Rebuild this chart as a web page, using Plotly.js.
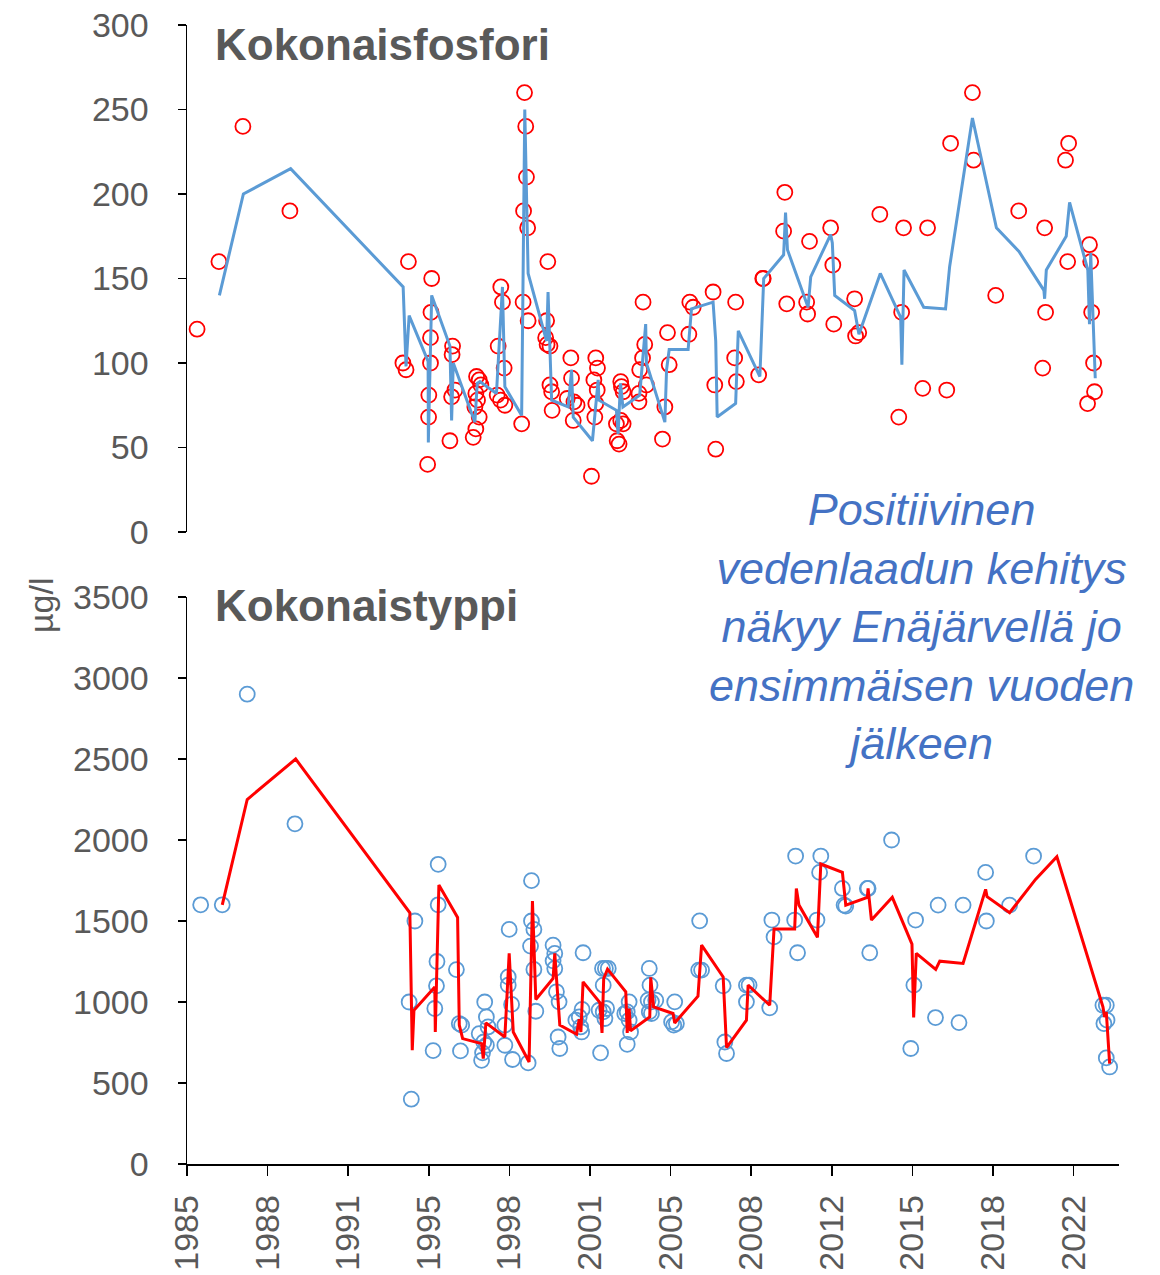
<!DOCTYPE html>
<html>
<head>
<meta charset="utf-8">
<script src="https://cdn.plot.ly/plotly-3.0.1.min.js"></script>
<style>html,body{margin:0;padding:0;background:#fff;}#chart{width:1160px;height:1275px;}</style>
</head>
<body>
<div id="chart"></div>
<script>
// ---- Tick labels (x axis, date axis shown as years) ----
const xTickLabels = ["1985","1988","1991","1995","1998","2001","2005","2008","2012","2015","2018","2022"];
const yTopTicks = [0,50,100,150,200,250,300];
const yBottomTicks = [0,500,1000,1500,2000,2500,3000,3500];

// ---- Kokonaisfosfori: measured values (red circles) ----
const tpYears = [1985.57,1986.48,1987.48,1989.44,1994.15,1994.28,1994.38,1995.18,1995.22,1995.23,1995.30,1995.30,1995.32,1995.35,
1996.11,1996.18,1996.20,1996.22,1996.32,1997.08,1997.15,1997.19,1997.19,1997.22,1997.26,1997.33,1997.33,1997.40,
1998.08,1998.12,1998.22,1998.23,1998.30,1998.37,1998.40,1999.10,1999.16,1999.18,1999.22,1999.27,1999.30,1999.35,1999.37,
2000.10,2000.14,2000.16,2000.19,2000.28,2000.28,2000.35,2000.37,2001.00,2001.15,2001.18,2001.25,2001.28,2001.41,
2002.01,2002.11,2002.15,2002.19,2002.19,2002.25,2002.26,2003.05,2003.08,2003.16,2003.23,2003.23,2003.26,2003.33,2003.33,
2003.99,2003.99,2004.02,2004.14,2004.16,2004.23,2004.30,2004.97,2005.07,2005.18,2005.25,2006.07,2006.11,2006.25,
2007.08,2007.15,2007.19,2007.98,2008.02,2008.05,2008.98,2009.15,2009.17,2010.02,2010.07,2010.15,2010.98,2011.02,2011.10,
2011.98,2012.07,2012.11,2012.98,2013.02,2013.15,2014.03,2014.82,2014.94,2015.02,2015.82,2016.02,2016.82,2016.98,
2017.89,2017.94,2018.86,2019.82,2020.82,2020.90,2020.94,2021.77,2021.86,2021.90,2022.69,2022.77,2022.82,2022.86,2022.94,2022.98];
const tpValues = [120,160,240,190,100,96,160,40,68,81,100,115,130,150,
54,80,105,110,84,56,74,61,82,92,78,90,68,87,
81,110,78,145,136,97,75,64,136,190,260,240,210,180,125,
115,125,111,160,110,87,83,72,79,103,91,66,77,75,
33,90,68,103,76,84,97,64,54,52,89,66,86,83,64,
82,77,96,103,136,111,87,55,74,118,99,117,136,133,
142,87,49,103,136,89,93,150,150,178,201,135,136,129,172,
180,158,123,138,116,118,188,68,130,180,85,180,84,230,
260,220,140,190,97,180,130,220,160,230,76,170,160,130,100,83];

// ---- Kokonaisfosfori: line series (blue) ----
const tpLineYears = [1986.50,1987.50,1989.47,1994.16,1994.28,1994.41,1995.20,1995.21,1995.35,1996.11,1996.18,1996.25,
1997.15,1997.25,1997.36,1998.05,1998.30,1998.40,1999.10,1999.23,1999.37,2000.14,2000.20,2000.35,
2001.04,2001.18,2001.25,2002.05,2002.29,2002.32,2003.05,2003.12,2003.22,2003.32,2004.02,2004.27,2004.30,
2005.07,2005.14,2005.25,2006.04,2006.18,2007.08,2007.19,2007.25,2008.02,2008.13,2009.03,2009.19,
2010.02,2010.10,2010.18,2011.04,2011.15,2011.98,2012.05,2012.15,2012.98,2013.16,2014.05,2014.90,2014.95,2015.04,
2015.86,2016.77,2016.94,2017.89,2018.89,2019.83,2020.87,2020.90,2020.97,2021.80,2021.94,2022.70,2022.77,2022.82,2023.01];
const tpLineValues = [140,200,215,145,98,128,101,53,140,110,66,100,
65,88,89,82,145,86,69,250,153,113,142,78,
74,96,68,54,90,78,72,58,88,74,81,123,100,
65,96,108,108,132,136,113,68,76,119,92,150,
164,189,167,133,151,176,171,140,131,117,153,127,99,155,
133,132,157,245,180,166,143,138,155,175,195,155,123,165,91];

// ---- Kokonaistyppi: measured values (blue circles) ----
const tnYears = [1985.72,1986.62,1987.66,1989.65,1994.41,1994.50,1994.65,1995.41,1995.48,1995.55,1995.57,1995.62,1995.62,
1996.38,1996.50,1996.55,1996.60,1997.33,1997.43,1997.47,1997.52,1997.56,1997.63,1997.63,1997.70,
1998.40,1998.40,1998.54,1998.54,1998.58,1998.68,1998.72,1999.37,1999.47,1999.51,1999.51,1999.61,1999.61,1999.69,
2000.41,2000.48,2000.41,2000.48,2000.55,2000.66,2000.62,2000.69,2001.36,2001.50,2001.56,2001.60,2001.62,2001.66,
2002.39,2002.47,2002.59,2002.71,2002.50,2002.33,2002.50,2002.64,2002.57,2003.40,2003.50,2003.58,2003.64,2003.50,2003.58,
2004.37,2004.42,2004.45,2004.51,2004.69,2004.42,2004.51,2005.35,2005.44,2005.55,2005.48,2006.48,2006.52,2006.60,
2007.50,2007.57,2007.64,2008.47,2008.58,2008.47,2009.44,2009.53,2009.62,2010.48,2010.52,2010.60,2011.41,2011.52,2011.57,
2012.47,2012.54,2012.61,2013.51,2013.54,2013.61,2014.52,2015.32,2015.45,2015.52,2016.35,2016.46,2017.33,2017.50,
2018.44,2018.47,2019.44,2020.44,2023.33,2023.47,2023.37,2023.50,2023.47,2023.61];
const tnValues = [1600,1600,2900,2100,1000,400,1500,700,960,1100,1250,1600,1850,
1200,867,698,857,805,640,686,753,1000,908,733,846,
857,733,1155,1104,1448,985,645,624,1345,1749,1500,1448,1201,943,
1351,1300,1254,1207,1063,1001,784,713,888,908,846,815,954,1304,
686,1207,1207,1207,1104,949,939,960,898,929,939,888,815,739,1001,
1011,1207,1104,1001,1011,939,929,877,857,867,1001,1197,1501,1197,
1100,753,682,1104,1104,1001,964,1506,1402,1506,1901,1304,1506,1800,1901,
1701,1598,1592,1701,1701,1304,2000,713,1104,1506,904,1598,873,1598,
1800,1500,1598,1901,980,980,867,888,655,599];

// ---- Kokonaistyppi: line series (red) ----
const tnLineYears = [1986.62,1987.66,1989.68,1994.44,1994.54,1994.61,1995.48,1995.50,1995.65,1996.43,1996.50,1996.64,
1997.43,1997.50,1997.61,1998.40,1998.58,1998.75,1999.41,1999.55,1999.69,2000.41,2000.48,2000.69,
2001.39,2001.50,2001.57,2001.66,2002.36,2002.45,2002.52,2002.68,2003.44,2003.50,2003.58,2003.64,
2004.44,2004.48,2004.60,2005.41,2005.48,2006.45,2006.60,2007.50,2007.64,2008.47,2008.54,2009.44,2009.62,
2010.48,2010.55,2010.66,2011.43,2011.57,2012.47,2012.61,2013.51,2013.54,2013.68,2014.55,2015.37,2015.44,2015.55,
2016.36,2016.53,2017.50,2018.44,2018.50,2019.44,2020.52,2021.41,2023.33,2023.40,2023.47,2023.61];
const tnLineValues = [1600,2250,2500,1551,702,949,1093,815,1722,1522,857,774,
743,651,871,784,1300,815,630,1623,1015,1145,1300,857,
801,894,815,1124,997,809,1145,1203,1063,809,960,822,
908,1152,970,929,871,1036,1351,1155,719,888,1104,980,1450,
1450,1701,1598,1399,1852,1800,1598,1646,1701,1506,1646,1357,904,1300,
1201,1252,1238,1695,1650,1551,1757,1897,970,908,939,620];

// ---- styling ----
const FONT = '"Liberation Sans", Arial, sans-serif';
const GREY = '#595959';
const RED = '#FF0000';
const BLUE = '#5B9BD5';
const xStart = 1985.15, xStep = 3.36, xEnd = 2024.0;
const xTickVals = xTickLabels.map((_, i) => xStart + i * xStep);

const traces = [
  {x: tpYears, y: tpValues, type: 'scatter', mode: 'markers', xaxis: 'x2', yaxis: 'y2',
   marker: {symbol: 'circle-open', size: 15, color: RED, line: {width: 1.8, color: RED}}},
  {x: tpLineYears, y: tpLineValues, type: 'scatter', mode: 'lines', xaxis: 'x2', yaxis: 'y2',
   line: {color: BLUE, width: 3}},
  {x: tnYears, y: tnValues, type: 'scatter', mode: 'markers', xaxis: 'x', yaxis: 'y',
   marker: {symbol: 'circle-open', size: 15, color: BLUE, line: {width: 1.8, color: BLUE}}},
  {x: tnLineYears, y: tnLineValues, type: 'scatter', mode: 'lines', xaxis: 'x', yaxis: 'y',
   line: {color: RED, width: 3}}
];

const topDomain = [(1164 - 532) / 1139, 1];
const botDomain = [0, (1164 - 597) / 1139];

const layout = {
  width: 1160, height: 1275,
  margin: {l: 187, r: 41, t: 25, b: 111},
  paper_bgcolor: '#fff', plot_bgcolor: '#fff',
  showlegend: false,
  font: {family: FONT, color: GREY, size: 34},
  xaxis: {
    domain: [0, 1], range: [xStart, xEnd], anchor: 'y',
    tickmode: 'array', tickvals: xTickVals, ticktext: xTickLabels,
    tickangle: -90, ticks: 'outside', ticklen: 10, tickwidth: 1.5, tickcolor: '#000',
    showline: true, linecolor: '#000', linewidth: 1.5, showgrid: false, zeroline: false,
    tickfont: {family: FONT, size: 34, color: GREY}, ticklabelstandoff: 6
  },
  xaxis2: {
    domain: [0, 1], range: [xStart, xEnd], anchor: 'y2',
    showline: false, showticklabels: false, ticks: '', showgrid: false, zeroline: false
  },
  yaxis: {
    domain: botDomain, range: [0, 3500], anchor: 'x',
    tickmode: 'array', tickvals: yBottomTicks,
    ticks: 'outside', ticklen: 8, tickwidth: 1.5, tickcolor: '#000',
    showline: true, linecolor: '#000', linewidth: 1.5, showgrid: false, zeroline: false,
    tickfont: {family: FONT, size: 34, color: GREY}, ticklabelstandoff: 22
  },
  yaxis2: {
    domain: topDomain, range: [0, 300], anchor: 'x2',
    tickmode: 'array', tickvals: yTopTicks,
    ticks: 'outside', ticklen: 8, tickwidth: 1.5, tickcolor: '#000',
    showline: true, linecolor: '#000', linewidth: 1.5, showgrid: false, zeroline: false,
    tickfont: {family: FONT, size: 34, color: GREY}, ticklabelstandoff: 22
  },
  annotations: [
    {text: '<b>Kokonaisfosfori</b>', xref: 'paper', yref: 'paper', x: (213 - 187) / 932, y: (1164 - 45) / 1139,
     xanchor: 'left', yanchor: 'middle', showarrow: false, font: {family: FONT, size: 44, color: GREY}},
    {text: '<b>Kokonaistyppi</b>', xref: 'paper', yref: 'paper', x: (213 - 187) / 932, y: (1164 - 606) / 1139,
     xanchor: 'left', yanchor: 'middle', showarrow: false, font: {family: FONT, size: 44, color: GREY}},
    {text: 'µg/l', xref: 'paper', yref: 'paper', x: (41 - 187) / 932, y: (1164 - 605) / 1139,
     xanchor: 'center', yanchor: 'middle', textangle: -90, showarrow: false, font: {family: FONT, size: 34, color: GREY}},
    {text: '<i>Positiivinen<br>vedenlaadun kehitys<br>näkyy Enäjärvellä jo<br>ensimmäisen vuoden<br>jälkeen</i>',
     xref: 'paper', yref: 'paper', x: (921 - 187) / 932, y: (1164 - 626) / 1139,
     xanchor: 'center', yanchor: 'middle', align: 'center', showarrow: false,
     font: {family: FONT, size: 45, color: '#4472C4'}}
  ]
};

Plotly.newPlot('chart', traces, layout, {staticPlot: true, displayModeBar: false});
</script>
</body>
</html>
